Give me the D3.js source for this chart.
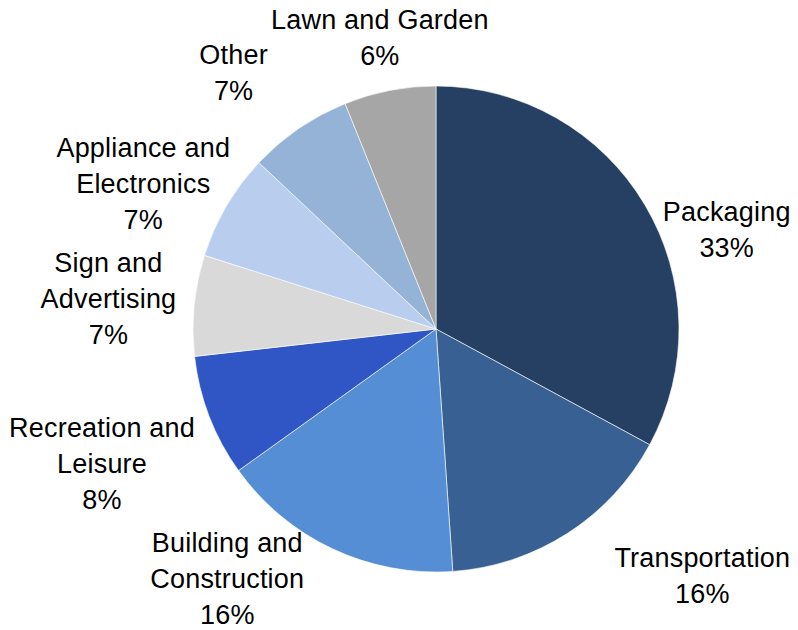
<!DOCTYPE html>
<html>
<head>
<meta charset="utf-8">
<script src="https://cdn.jsdelivr.net/npm/d3@7"></script>
<style>
  body { margin: 0; background: #fff; }
  svg text { font-family: "Liberation Sans", Arial, sans-serif; }
</style>
</head>
<body>
<div id="pie"></div>
<script>
// data, clockwise from 12 o'clock
const categories = ["Packaging", "Transportation", "Building and Construction", "Recreation and Leisure",
    "Sign and Advertising", "Appliance and Electronics", "Other", "Lawn and Garden"];
const shares = [32.9, 16.0, 16.2, 8.1, 6.7, 7.1, 6.9, 6.1];
const labelLines = [["Packaging"], ["Transportation"], ["Building and", "Construction"], ["Recreation and", "Leisure"],
    ["Sign and", "Advertising"], ["Appliance and", "Electronics"], ["Other"], ["Lawn and Garden"]];

// layout
const width = 798, height = 630;
const cx = 436, cy = 329, radius = 243;
const colors = ["#264063", "#386092", "#558ed5", "#3056c5", "#d9d9d9", "#b9cdee", "#95b3d7", "#a6a6a6"];
// label offsets from the outer centroid (excel pushes the big labels around)
const labelNudge = [[33, 56], [104, -4], [-81, -20], [-54, 28], [-29, 0], [-34, 8], [-33, -7], [1, 4]];
const fontSize = 27, lineHeight = 36;

let svg = d3.select("#pie")
    .append("svg")
    .attr("width", width)
    .attr("height", height);

let g = svg.append("g")
    .attr("transform", `translate(${cx}, ${cy})`);

let pie = d3.pie().sort(null).value(d => d.value);
let arc = d3.arc().innerRadius(0).outerRadius(radius);
let labelArc = d3.arc().innerRadius(300).outerRadius(300);

let rows = categories.map((c, i) => ({name: c, value: shares[i], lines: labelLines[i], i: i}));
let arcs = pie(rows);

g.selectAll("path.slice")
    .data(arcs)
    .enter()
    .append("path")
    .attr("class", "slice")
    .attr("d", arc)
    .style("fill", d => colors[d.data.i])
    .style("stroke", "#ffffff")
    .style("stroke-width", 0.6);

// labels: name lines + rounded percent
let labels = g.selectAll("text.lbl")
    .data(arcs)
    .enter()
    .append("text")
    .attr("class", "lbl")
    .style("font-size", fontSize + "px")
    .style("letter-spacing", "0.2px")
    .style("text-anchor", "middle")
    .style("fill", "#000");

labels.each(function(d) {
    let c = labelArc.centroid(d);
    let n = labelNudge[d.data.i];
    let x = c[0] + n[0], y = c[1] + n[1];
    let lines = d.data.lines.concat([Math.round(d.data.value) + "%"]);
    let firstBase = y - (lines.length - 1) * lineHeight / 2 + 8;
    let t = d3.select(this);
    lines.forEach((s, k) => {
        t.append("tspan")
            .attr("x", x)
            .attr("y", firstBase + k * lineHeight)
            .text(s);
    });
});
</script>
</body>
</html>
